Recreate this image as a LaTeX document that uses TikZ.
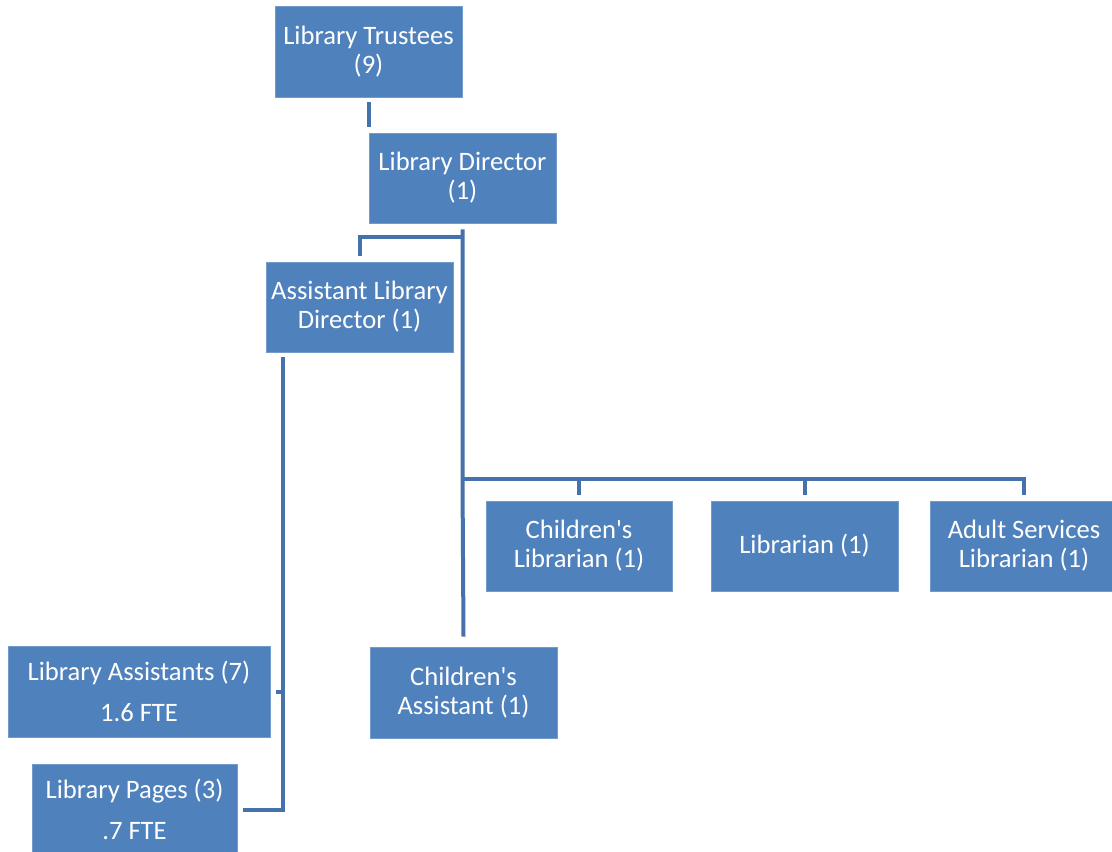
\documentclass[tikz,border=0pt]{standalone}
\usepackage{fontspec}
\setmainfont{Carlito}[Ligatures=TeXOff]
\definecolor{boxblue}{HTML}{4F81BD}
\definecolor{lineblue}{HTML}{4672AC}
\begin{document}
\begin{tikzpicture}[x=1pt,y=-1pt,
  box/.style={fill=boxblue, draw=boxblue!80!white, line width=0.6pt, text=white, align=center,
    inner sep=0pt, font=\fontsize{26.6}{29}\selectfont},
  conn/.style={draw=lineblue, line width=4pt}]
\useasboundingbox (0,0) rectangle (1112,852);
\clip (0,0) rectangle (1112,852);
\node[box, minimum width=187pt, minimum height=91pt] (trustees) at (368.5,51.5) {Library Trustees\\(9)};
\node[box, minimum width=187pt, minimum height=90pt] (director) at (462.5,178) {Library Director\\(1)};
\node[box, minimum width=187pt, minimum height=90pt] (asst) at (359.5,307) {Assistant Library\\Director (1)};
\node[box, minimum width=186pt, minimum height=90pt] (chlib) at (579,546) {Children's\\Librarian (1)};
\node[box, minimum width=187pt, minimum height=90pt] (lib) at (804.5,546) {Librarian (1)};
\node[box, minimum width=188pt, minimum height=90pt] (adult) at (1024,546) {Adult Services\\Librarian (1)};
\node[box, minimum width=262pt, minimum height=91pt] (assts) at (139,691.5) {Library Assistants (7)\\[12pt]1.6 FTE};
\node[box, minimum width=205pt, minimum height=91pt] (pages) at (134.5,809.5) {Library Pages (3)\\[12pt].7 FTE};
\node[box, minimum width=187pt, minimum height=91pt] (chass) at (463.5,692.5) {Children's\\Assistant (1)};

% trustees to director
\draw[conn] ([yshift=-5pt]trustees.south) -- ([yshift=6pt]trustees.south |- director.north);
% director trunk
\coordinate (dtop) at ([yshift=-6pt]director.south);
\coordinate (bus) at (director.south |- 0,479);
\draw[conn] (dtop) -- (bus) -- ([yshift=10pt]chass.north);
% director to assistant director
\coordinate (abus) at (director.south |- 0,237);
\draw[conn] (abus) -| ([yshift=6pt]asst.north);
% bus to right boxes
\draw[conn] (bus) -| ([yshift=6pt]adult.north);
\draw[conn] (chlib.north |- bus) -- ([yshift=6pt]chlib.north);
\draw[conn] (lib.north |- bus) -- ([yshift=6pt]lib.north);
% assistant director to assistants and pages
\coordinate (atop) at ([xshift=17pt,yshift=-5pt]asst.south west);
\draw[conn] (atop) |- ([xshift=6pt]pages.east);
\draw[conn] (atop |- assts.east) -- ([xshift=6pt]assts.east);
\end{tikzpicture}
\end{document}
